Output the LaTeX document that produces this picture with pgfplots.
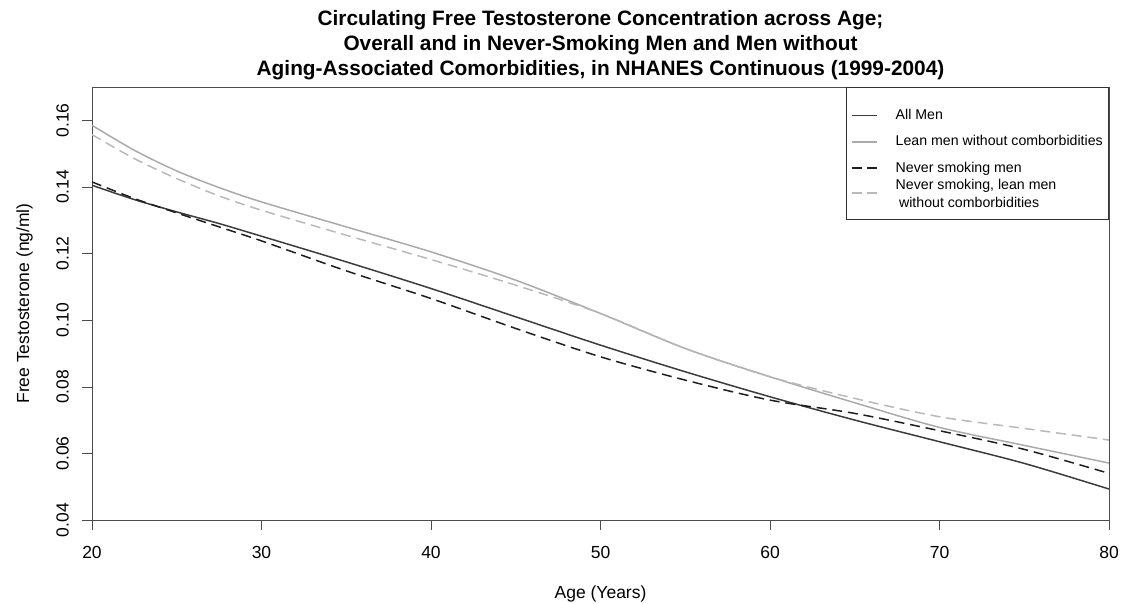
\documentclass[border=0pt]{standalone}
\usepackage{pgfplots}
\pgfplotsset{compat=1.18}
\usepackage{fontspec}
\setmainfont{Liberation Sans}
\definecolor{allM}{RGB}{60,60,60}
\definecolor{leanM}{RGB}{170,170,170}
\definecolor{nsM}{RGB}{30,30,30}
\definecolor{nslM}{RGB}{185,185,185}

\pgfplotstableread{
age  all    ns     lean   nsl
20   0.1405 0.1415 0.1585 0.1557
22.5 0.1362 0.1365 0.1510 0.1485
25   0.1325 0.1322 0.1448 0.1425
27.5 0.1290 0.1280 0.1398 0.1373
30   0.1252 0.1238 0.1355 0.1330
35   0.1175 0.1148 0.1280 0.1255
40   0.1095 0.1065 0.1205 0.1182
45   0.1010 0.0975 0.1120 0.1105
50   0.0925 0.0890 0.1020 0.1020
55   0.0845 0.0820 0.0915 0.0915
60   0.0770 0.0760 0.0830 0.0830
65   0.0700 0.0720 0.0752 0.0765
70   0.0635 0.0668 0.0678 0.0710
75   0.0570 0.0612 0.0624 0.0675
80   0.0493 0.0540 0.0571 0.0640
}\ftdata

\begin{document}
\begin{tikzpicture}
\begin{axis}[
  name=ax,
  scale only axis, width=610.2pt, height=259.8pt,
  xmin=20, xmax=80, ymin=0.04, ymax=0.17,
  xtick={20,30,...,80},
  ytick={0.04,0.06,...,0.161},
  xticklabel style={yshift=-6.5pt},
  yticklabel style={xshift=-4.4pt, rotate=90, anchor=south, /pgf/number format/fixed, /pgf/number format/precision=2, /pgf/number format/fixed zerofill},
  /pgf/number format/assume math mode=true,
  tick align=outside, xtick pos=left, ytick pos=left,
  major tick length=6pt,
  axis line style={draw=black!70},
  tick style={draw=black!70},
  ticklabel style={font=\fontsize{10.5}{12}\selectfont},
  label style={font=\fontsize{10.5}{12}\selectfont},
  xlabel={Age (Years)},
  ylabel={Free Testosterone (ng/ml)},
  xlabel style={yshift=-9pt},
  ylabel style={yshift=7.3pt},
  title={Circulating Free Testosterone Concentration across Age;\\Overall and in Never-Smoking Men and Men without\\Aging-Associated Comorbidities, in NHANES Continuous (1999-2004)},
  title style={font=\bfseries\fontsize{12.5}{15}\selectfont, align=center, yshift=-5pt},
  legend style={at={(rel axis cs:1,1)}, anchor=north east,
    font=\fontsize{8.5}{10}\selectfont, draw=black!80,
    row sep=4.2pt, inner xsep=1.5pt, inner ysep=11pt,
    /tikz/every odd column/.append style={column sep=9pt}},
  legend cell align=left,
  legend image code/.code={\path (0cm,0cm); \draw[#1] (0.05cm,0cm) -- (0.58cm,0cm);},
  every axis plot/.append style={line width=0.9pt, smooth},
]
\addplot[allM] table[x=age, y=all] {\ftdata};
\addlegendentry{All Men}
\addplot[leanM] table[x=age, y=lean] {\ftdata};
\addlegendentry{Lean men without comborbidities}
\addplot[nsM, dash pattern=on 6pt off 3.5pt] table[x=age, y=ns] {\ftdata};
\addlegendentry{Never smoking men}
\addplot[nslM, dash pattern=on 6pt off 3.5pt] table[x=age, y=nsl] {\ftdata};
\addlegendentry{\raisebox{-2pt}[4pt][4pt]{\renewcommand{\arraystretch}{1.1}\begin{tabular}{@{}l@{}}Never smoking, lean men\\\hspace{2pt}without comborbidities\end{tabular}}}
\end{axis}
\pgfresetboundingbox
\useasboundingbox ([shift={(-55.2pt,-49.8pt)}]ax.south west) rectangle ([shift={(9.6pt,52.2pt)}]ax.north east);
\end{tikzpicture}
\end{document}
